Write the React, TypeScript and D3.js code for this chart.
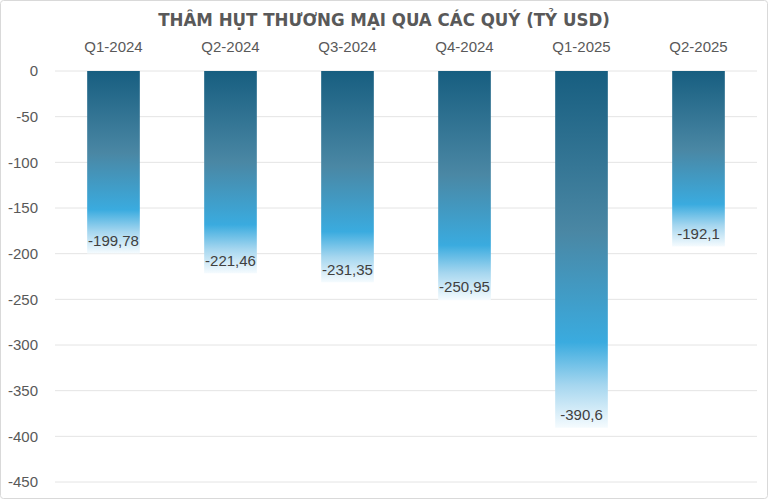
import React from "react";
import * as d3 from "d3";

const categories = ["Q1-2024", "Q2-2024", "Q3-2024", "Q4-2024", "Q1-2025", "Q2-2025"];
const values = [-199.78, -221.46, -231.35, -250.95, -390.6, -192.1];
const labels = ["-199,78", "-221,46", "-231,35", "-250,95", "-390,6", "-192,1"];
const yTicks = [0, -50, -100, -150, -200, -250, -300, -350, -400, -450];
const title = "THÂM HỤT THƯƠNG MẠI QUA CÁC QUÝ (TỶ USD)";

const W = 768, H = 499;
const m = { left: 55, right: 11, top: 71, bottom: 17 };

export default function App() {
  const x = d3.scaleBand().domain(categories).range([m.left, W - m.right]).paddingInner(0.55).paddingOuter(0.275);
  const y = d3.scaleLinear().domain([0, -450]).range([m.top, H - m.bottom]);
  const font = "'Liberation Sans', Arial, sans-serif";
  return (
    <div style={{ position: "fixed", left: 0, top: 0 }}>
      <svg width={W} height={H} style={{ display: "block", background: "#fff" }}>
        <defs>
          <linearGradient id="barg" x1="0" y1="0" x2="0" y2="1">
            <stop offset="0" stopColor="#175e80" />
            <stop offset="0.45" stopColor="#4a87a4" />
            <stop offset="0.76" stopColor="#3aabdf" />
            <stop offset="0.88" stopColor="#a5d6ef" />
            <stop offset="1" stopColor="#f5fbfe" />
          </linearGradient>
        </defs>
        <rect x={0.5} y={0.5} width={W - 1} height={H - 1} rx={3} fill="#fff" stroke="#d9d9d9" />
        <text x={W / 2} y={26} textAnchor="middle" fontFamily="'DejaVu Sans Condensed', 'DejaVu Sans', sans-serif" fontWeight="bold" fontSize={18.5} fill="#595959">{title}</text>
        {yTicks.map((t) => (
          <g key={t}>
            <line x1={m.left} x2={W - m.right} y1={y(t)} y2={y(t)} stroke="#e4e4e4" strokeWidth={1} />
            <text x={38} y={y(t)} dy="0.35em" textAnchor="end" fontFamily={font} fontSize={15} fill="#595959">{t}</text>
          </g>
        ))}
        {categories.map((c) => (
          <text key={c} x={x(c)! + x.bandwidth() / 2} y={52} textAnchor="middle" fontFamily={font} fontSize={15} fill="#595959">{c}</text>
        ))}
        {categories.map((c, i) => (
          <rect key={c} x={x(c)} y={y(0)} width={x.bandwidth()} height={y(values[i]) - y(0)} fill="url(#barg)" />
        ))}
        {categories.map((c, i) => {
          const cx = x(c)! + x.bandwidth() / 2;
          const ly = y(values[i]) - 13;
          return (
            <text key={c} x={cx} y={ly} dy="0.35em" textAnchor="middle" fontFamily={font} fontSize={15} fill="#404040">{labels[i]}</text>
          );
        })}
      </svg>
    </div>
  );
}
